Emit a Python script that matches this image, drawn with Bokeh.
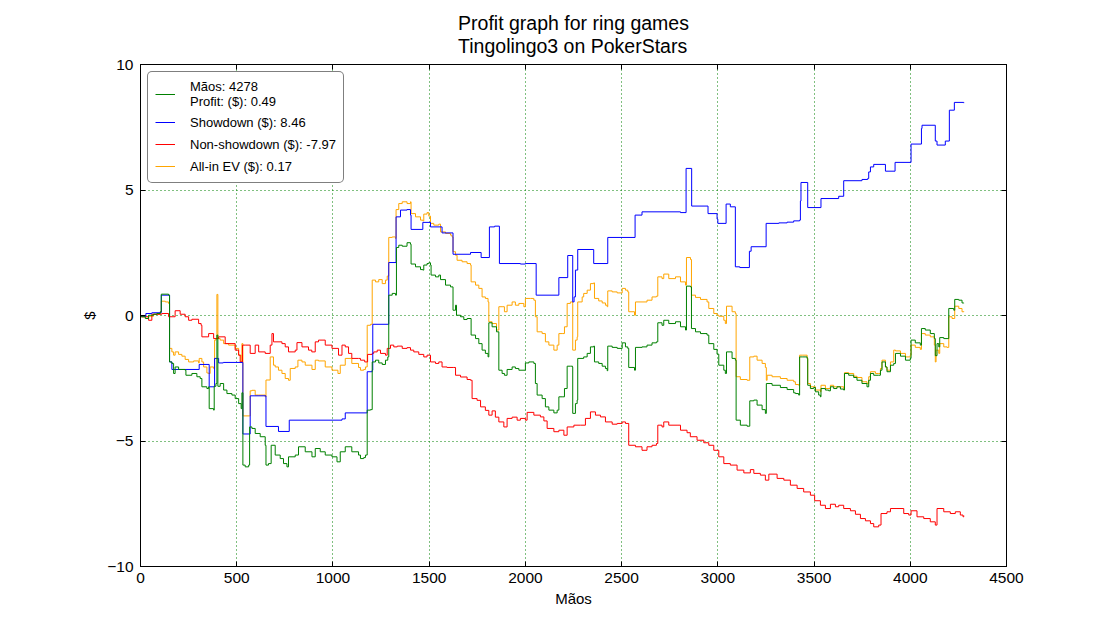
from bokeh.plotting import figure
from bokeh.models import (FixedTicker, LinearAxis, Range1d, Legend, LegendItem,
                          CustomJSTickFormatter)
from bokeh.embed import file_html
from bokeh.resources import INLINE

# ---------------- data (hand number, cumulative $) ----------------
profit_hands = [0, 4, 25, 42, 68, 85, 103, 108, 146, 151, 163, 172, 180, 198, 232, 236, 267, 293, 310, 319, 345, 354, 357, 380, 383, 392, 397, 402, 414, 432, 449, 475, 492, 510, 523, 527, 532, 544, 562, 567, 579, 596, 622, 648, 652, 665, 679, 700, 726, 743, 761, 769, 804, 821, 856, 891, 908, 934, 960, 995, 1021, 1038, 1064, 1098, 1133,
                1143, 1160, 1169, 1178, 1195, 1204, 1221, 1238, 1256, 1273, 1285, 1290, 1308, 1325, 1330, 1342, 1360, 1385, 1403, 1406, 1429, 1455, 1467, 1472, 1489, 1498, 1507, 1510, 1533, 1550, 1559, 1585, 1611, 1624, 1637, 1642, 1663, 1680, 1697, 1718, 1741, 1758, 1775, 1792, 1806, 1810, 1827, 1850, 1862, 1879, 1891, 1905, 1931, 1948, 1966, 2000, 2018, 2044, 2052, 2061, 2087, 2104, 2122, 2148, 2165, 2174, 2191, 2203, 2217, 2234, 2245, 2246, 2260, 2269, 2272,
                2303, 2321, 2338, 2355, 2359, 2381, 2399, 2416, 2425, 2428, 2451, 2477, 2503, 2520, 2532, 2537, 2567, 2572, 2606, 2632, 2658, 2681, 2688, 2710, 2719, 2745, 2780, 2806, 2832, 2837, 2858, 2863, 2884, 2910, 2944, 2953, 2979, 2996, 3005, 3031, 3039, 3045, 3074, 3091, 3095, 3117, 3152, 3166, 3187, 3204, 3230, 3247, 3252, 3282, 3325, 3360, 3394,
                3403, 3420, 3425, 3438, 3464, 3467, 3481, 3498, 3507, 3524, 3533, 3536, 3559, 3576, 3585, 3602, 3619, 3637, 3654, 3658, 3680, 3706, 3723, 3749, 3775, 3784, 3793, 3810, 3836, 3845, 3853, 3871, 3879, 3897, 3914, 3923, 3949, 3975, 4000, 4004, 4026, 4052, 4058, 4078, 4104, 4125, 4130, 4139, 4148, 4153, 4174, 4191, 4200, 4226, 4231, 4252, 4269, 4278]
profit_vals = [0.0, -0.05, -0.12, 0.01, 0.05, 0.08, 0.15, 0.85, 0.81, -1.85, -1.91, -2.31, -2.05, -2.15, -2.18, -2.38, -2.31, -2.44, -2.51, -2.84, -2.91, -2.84, -3.71, -3.77, -2.82, -2.71, -0.78, -2.82, -2.71, -2.97, -3.11, -3.17, -3.31, -3.51, -3.71, -3.08, -5.96, -6.03, -5.96, -4.44, -4.50, -4.70, -4.83, -5.17, -5.96, -5.90, -5.17, -5.56, -5.70, -5.90, -6.03, -5.63, -5.56, -5.23, -5.43, -5.63, -5.30, -5.43, -5.56, -5.63, -5.83, -5.43, -5.23, -5.43, -5.56,
               -5.70, -5.66, -5.56, -3.77, -3.75, -1.85, -1.78, -1.89, -1.95, -1.78, -1.65, 0.81, 0.88, 0.81, 2.71, 2.80, 2.76, 2.90, 2.84, 2.05, 1.94, 1.83, 1.81, 2.01, 2.07, 2.10, 2.01, 1.61, 1.54, 1.61, 1.43, 1.21, 1.14, 0.21, 0.41, 0.01, -0.05, -0.16, -0.12, -0.78, -0.92, -1.12, -1.38, -1.51, -1.65, -0.29, -0.45, -0.65, -2.18, -2.31, -2.38, -2.15, -2.05, -2.11, -2.18, -1.89, -1.85, -1.91, -2.71, -3.17, -3.31, -3.64, -3.77, -3.88, -3.77, -3.24, -3.24, -2.91, -2.02, -2.02, -2.05, -3.90, -3.51, -3.37, -1.71,
               -1.65, -1.51, -1.25, -1.22, -1.85, -1.91, -2.02, -2.11, -2.20, -1.22, -1.27, -1.31, -1.09, -1.25, -1.31, -2.07, -2.18, -1.27, -1.25, -1.18, -1.09, -1.05, -0.29, -0.39, -0.19, -0.32, -0.25, -0.45, -0.58, 1.17, 1.14, -0.52, -0.65, -0.72, -0.78, -1.12, -1.35, -1.54, -1.98, -2.18, -2.31, -1.45, -1.71, -1.78, -4.17, -4.37, -4.41, -3.40, -3.37, -3.57, -3.75, -3.90, -2.71, -2.78, -2.87, -2.95, -3.08,
               -3.11, -3.17, -1.65, -1.65, -1.71, -2.78, -2.91, -2.87, -3.04, -3.17, -3.24, -2.91, -2.97, -3.00, -2.84, -2.91, -2.84, -2.93, -2.97, -2.31, -2.38, -2.47, -2.58, -2.71, -2.84, -2.58, -2.31, -2.38, -2.38, -2.18, -1.85, -2.05, -2.24, -1.98, -1.91, -1.51, -1.62, -1.78, -1.71, -0.98, -1.09, -1.18, -0.52, -0.58, -0.72, -0.92, -1.60, -1.12, -1.25, -0.88, -0.92, -0.92, 0.28, 0.21, 0.64, 0.61, 0.50, 0.49]

showdown_hands = [0, 4, 28, 59, 108, 151, 163, 305, 357, 385, 406, 430, 532, 570, 652, 717, 773, 1047, 1064, 1178, 1204, 1207, 1290, 1328, 1351, 1385, 1403, 1406, 1467, 1507, 1567, 1624, 1715, 1770, 1813, 1840, 1865, 1974, 2000, 2056, 2174, 2220, 2246, 2253, 2260, 2272, 2355, 2428, 2570, 2606, 2806, 2835, 2864, 2949, 2996, 3000, 3043, 3065, 3091, 3114, 3164, 3173, 3251, 3317, 3360, 3394, 3425, 3429, 3432, 3467, 3536, 3628, 3654, 3749, 3779, 3784, 3793, 3810, 3871, 3921, 4004, 4058, 4061, 4130, 4139, 4182, 4203, 4229, 4278]
showdown_vals = [0.0, -0.03, 0.08, 0.11, 0.81, -1.85, -2.15, -1.95, -2.84, -1.71, -1.89, -1.87, -4.72, -3.20, -4.42, -4.62, -4.17, -4.12, -3.88, -2.24, -2.18, -0.35, 2.11, 3.93, 4.20, 4.22, 4.00, 3.43, 3.71, 3.53, 3.29, 2.44, 2.51, 2.31, 3.53, 3.56, 2.07, 2.05, 2.07, 0.81, 1.51, 2.39, 0.54, 0.74, 1.81, 2.63, 2.07, 3.11, 4.00, 4.13, 4.10, 5.86, 4.36, 4.06, 3.84, 3.67, 4.44, 4.33, 1.94, 1.91, 2.56, 2.74, 3.67, 3.69, 3.72, 3.77, 3.80, 4.56, 5.30, 4.30, 4.66, 4.75, 5.37, 5.42, 5.46, 5.72, 5.92, 6.02, 5.75, 6.10, 6.83, 7.45, 7.58, 6.95, 6.79, 6.95, 8.18, 8.49, 8.46]

nonsd_hands = [0, 4, 42, 59, 111, 146, 180, 206, 232, 250, 267, 302, 315, 319, 354, 380, 406, 440, 492, 510, 518, 530, 544, 570, 596, 614, 648, 674, 683, 691, 735, 752, 769, 804, 813, 839, 873, 890, 908, 925, 960, 995, 1029, 1047, 1064, 1081, 1098, 1133,
               1143, 1165, 1180, 1204, 1212, 1230, 1247, 1273, 1282, 1299, 1316, 1334, 1360, 1385, 1403, 1420, 1446, 1472, 1489, 1507, 1533, 1550, 1567, 1593, 1628, 1637, 1663, 1697, 1715, 1723, 1749, 1767, 1792, 1810, 1827, 1844, 1862, 1888, 1905, 1931, 1957, 1974, 2000, 2009, 2044, 2078, 2096, 2113, 2148, 2174, 2200, 2217, 2252,
               2286, 2312, 2338, 2364, 2390, 2416, 2451, 2477, 2503, 2520, 2537, 2572, 2606, 2632, 2658, 2681, 2688, 2710, 2719, 2745, 2788, 2806, 2840, 2857, 2892, 2927, 2953, 2979, 3005, 3031, 3065, 3100, 3135, 3169, 3187, 3221, 3247, 3265, 3308, 3343,
               3377, 3412, 3446, 3481, 3503, 3533, 3559, 3585, 3611, 3628, 3654, 3689, 3715, 3741, 3767, 3793, 3810, 3836, 3848, 3879, 3897, 3931, 3966, 3992, 4004, 4035, 4070, 4104, 4130, 4139, 4174, 4208, 4234, 4260, 4274, 4278]
nonsd_vals = [0.0, -0.05, -0.19, 0.05, 0.08, -0.05, 0.19, 0.05, -0.05, -0.19, -0.15, -0.32, -0.39, -0.85, -0.72, -0.92, -0.85, -1.12, -1.38, -1.58, -1.85, -1.18, -1.18, -1.51, -1.18, -1.45, -1.51, -1.18, -0.72, -1.05, -1.12, -1.25, -1.45, -1.38, -1.08, -1.25, -1.38, -1.45, -1.05, -0.98, -1.18, -1.31, -1.58, -1.18, -1.25, -1.51, -1.71, -1.71,
              -1.78, -1.85, -1.55, -1.51, -1.45, -1.38, -1.51, -1.58, -1.31, -1.18, -1.25, -1.22, -1.31, -1.28, -1.38, -1.45, -1.55, -1.65, -1.58, -1.85, -1.91, -1.85, -2.05, -2.07, -2.07, -2.38, -2.45, -2.55, -2.58, -3.31, -3.38, -3.64, -3.78, -3.97, -3.80, -4.05, -4.24, -4.44, -4.10, -4.05, -4.17, -4.10, -4.17, -3.86, -3.97, -4.04, -4.20, -4.50, -4.63, -4.57, -4.77, -4.44, -4.37,
              -4.37, -4.10, -3.84, -3.97, -4.04, -4.24, -4.33, -4.30, -4.24, -4.30, -5.17, -5.23, -5.37, -5.23, -5.17, -5.10, -4.37, -4.44, -4.24, -4.37, -4.37, -4.57, -4.67, -4.83, -4.97, -5.07, -5.17, -5.37, -5.63, -5.90, -5.96, -6.16, -6.27, -6.14, -6.29, -6.36, -6.56, -6.32, -6.49, -6.56,
              -6.76, -6.89, -7.03, -7.16, -7.38, -7.56, -7.69, -7.52, -7.62, -7.56, -7.69, -7.78, -7.92, -8.09, -8.18, -8.29, -8.42, -8.35, -7.89, -7.82, -7.69, -7.69, -7.89, -7.95, -7.78, -8.02, -8.09, -8.22, -8.35, -7.69, -7.82, -7.89, -7.82, -7.95, -8.02, -7.97]

allin_hands = [0, 4, 42, 68, 103, 108, 129, 146, 151, 163, 172, 180, 198, 215, 232, 250, 276, 302, 305, 319, 328, 345, 354, 362, 380, 385, 392, 397, 402, 414, 432, 458, 492, 510, 523, 527, 532, 566, 570, 579, 596, 614, 648, 652, 674, 683, 691, 700, 717, 735, 752, 769, 778, 804, 818, 839, 856, 891, 908, 925, 960, 995, 1026, 1038, 1064, 1098, 1133,
               1143, 1160, 1169, 1178, 1195, 1204, 1221, 1238, 1256, 1273, 1282, 1290, 1308, 1325, 1328, 1342, 1360, 1385, 1403, 1406, 1429, 1455, 1467, 1472, 1489, 1498, 1507, 1524, 1550, 1559, 1585, 1611, 1619, 1624, 1637, 1645, 1671, 1697, 1715, 1718, 1741, 1758, 1775, 1792, 1806, 1810, 1827, 1850, 1862, 1879, 1891, 1905, 1931, 1948, 1966, 1992, 2000, 2026, 2044, 2052, 2061, 2087, 2104, 2122, 2148, 2165, 2174, 2191, 2203, 2217, 2234, 2245, 2246, 2260, 2269, 2272, 2295,
               2303, 2321, 2338, 2355, 2359, 2381, 2399, 2416, 2425, 2428, 2451, 2477, 2503, 2520, 2532, 2537, 2567, 2572, 2606, 2632, 2658, 2681, 2688, 2710, 2719, 2745, 2780, 2806, 2832, 2837, 2858, 2863, 2884, 2910, 2944, 2953, 2979, 2996, 3005, 3031, 3039, 3045, 3074, 3091, 3095, 3117, 3152, 3166, 3187, 3204, 3230, 3247, 3252, 3256, 3282, 3325, 3360, 3394,
               3403, 3420, 3425, 3438, 3464, 3467, 3481, 3507, 3533, 3536, 3559, 3585, 3602, 3637, 3654, 3658, 3680, 3706, 3723, 3749, 3775, 3784, 3793, 3819, 3836, 3845, 3853, 3871, 3879, 3897, 3914, 3923, 3949, 3975, 4000, 4004, 4026, 4052, 4058, 4078, 4104, 4125, 4130, 4134, 4148, 4153, 4174, 4191, 4200, 4217, 4231, 4252, 4269, 4278]
allin_vals = [0.0, -0.05, -0.03, 0.05, 0.15, 0.57, 0.54, 0.48, -1.31, -1.45, -1.58, -1.45, -1.55, -1.62, -1.75, -1.85, -1.81, -1.89, -1.71, -1.85, -2.05, -2.29, -2.31, -2.05, -2.11, -0.98, -0.92, 0.84, -0.92, -0.98, -1.12, -1.18, -1.31, -1.58, -1.85, -1.12, -4.00, -4.00, -3.00, -2.98, -3.17, -3.17, -3.24, -2.57, -1.65, -1.65, -1.98, -2.05, -2.18, -2.31, -2.51, -2.58, -2.11, -2.05, -1.78, -1.85, -1.98, -2.15, -1.78, -1.81, -2.05, -2.18, -2.31, -1.98, -1.71, -1.91, -2.07,
              -2.18, -2.15, -2.05, -0.39, -0.35, 1.41, 1.34, 1.43, 1.27, 1.41, 1.57, 3.11, 3.13, 3.07, 4.22, 4.46, 4.53, 4.46, 4.53, 4.06, 3.93, 3.80, 3.77, 4.04, 4.10, 3.96, 3.67, 3.60, 3.64, 3.33, 3.27, 3.20, 3.13, 2.54, 2.40, 2.20, 2.14, 2.07, 2.01, 1.34, 1.21, 1.08, 0.74, 0.68, 0.54, -0.25, -0.32, -0.58, 0.35, 0.35, 0.15, 0.41, 0.54, 0.41, 0.48, 0.35, 0.68, 0.68, 0.61, -0.05, -0.65, -0.72, -1.05, -1.18, -1.38, -1.18, -0.72, -0.72, -0.45, 0.48, 0.54, 0.48, -1.38, -0.98, -0.85, 0.54, 0.74,
              0.88, 1.01, 1.27, 1.30, 0.68, 0.58, 0.50, 0.41, 0.35, 0.98, 0.94, 0.90, 1.08, 1.01, 0.94, 0.15, 0.01, 0.54, 0.54, 0.61, 0.74, 0.77, 1.54, 1.47, 1.65, 1.47, 1.54, 1.34, 1.21, 2.31, 2.23, 0.81, 0.72, 0.64, 0.54, 0.28, 0.08, 0.01, -0.03, -0.19, -0.32, 0.37, 0.15, 0.08, -2.44, -2.55, -2.58, -1.65, -1.62, -1.78, -1.91, -2.07, -2.58, -2.38, -2.44, -2.51, -2.58, -2.64,
              -2.75, -2.78, -1.58, -1.58, -1.71, -2.71, -2.84, -2.97, -3.04, -2.78, -2.91, -2.78, -2.84, -2.84, -2.91, -2.28, -2.31, -2.42, -2.47, -2.64, -2.71, -2.44, -2.24, -2.31, -2.31, -2.11, -1.78, -2.05, -2.18, -1.85, -1.38, -1.41, -1.51, -1.65, -1.58, -1.18, -1.27, -1.35, -0.72, -0.78, -0.85, -1.18, -1.85, -1.38, -1.51, -1.12, -1.25, -1.27, -0.05, -0.12, 0.37, 0.28, 0.15, 0.17]

x_ticks = [0, 500, 1000, 1500, 2000, 2500, 3000, 3500, 4000, 4500]
y_ticks = [-10, -5, 0, 5, 10]
title_text = "Profit graph for ring games\nTingolingo3 on PokerStars"
labels = ["M\u00e3os: 4278\nProfit: ($): 0.49", "Showdown ($): 8.46",
          "Non-showdown ($): -7.97", "All-in EV ($): 0.17"]
colors = {"profit": "#008000", "showdown": "#0000ff", "nonsd": "#ff0000", "allin": "#ffa500"}

FONT = "Liberation Sans"

p = figure(width=1110, height=621, output_backend="svg", toolbar_location=None,
           x_range=Range1d(0, 4500), y_range=Range1d(-10, 10),
           min_border_left=140, min_border_right=104, min_border_top=64, min_border_bottom=55,
           x_axis_label="M\u00e3os", y_axis_label="$")
p.background_fill_color = "white"
p.border_fill_color = "white"
p.outline_line_color = "black"
p.outline_line_width = 1

p.title.text = title_text
p.title.align = "center"
p.title.vertical_align = "top"
p.title.text_font = FONT
p.title.text_font_size = "19.5px"
p.title.text_font_style = "normal"
p.title.text_color = "black"
p.title.text_line_height = 1.03
p.title.standoff = 11

xt = FixedTicker(ticks=x_ticks, minor_ticks=[])
yt = FixedTicker(ticks=y_ticks, minor_ticks=[])

for ax, tk in ((p.xaxis[0], xt), (p.yaxis[0], yt)):
    ax.ticker = tk
    ax.major_tick_in = 5
    ax.major_tick_out = 0
    ax.minor_tick_in = 0
    ax.minor_tick_out = 0
    ax.axis_line_color = "black"
    ax.major_tick_line_color = "black"
    ax.major_label_text_font = FONT
    ax.major_label_text_font_size = "15.5px"
    ax.major_label_text_color = "black"
    ax.axis_label_text_font = FONT
    ax.axis_label_text_font_size = "15px"
    ax.axis_label_text_font_style = "normal"
    ax.axis_label_text_color = "black"

p.xaxis[0].major_label_standoff = 6
p.xaxis[0].axis_label_standoff = 4
p.yaxis[0].major_label_standoff = 7
p.yaxis[0].axis_label_standoff = 6
p.yaxis[0].major_label_overrides = {-10: "\u221210", -5: "\u22125", 0: "0", 5: "5", 10: "10"}

blank = CustomJSTickFormatter(code="return ''")
top = LinearAxis(ticker=xt, formatter=blank, major_tick_in=5, major_tick_out=0,
                 minor_tick_in=0, minor_tick_out=0, major_label_standoff=0,
                 major_label_text_font_size="1px", axis_line_color="black")
right = LinearAxis(ticker=yt, formatter=blank, major_tick_in=5, major_tick_out=0,
                   minor_tick_in=0, minor_tick_out=0, major_label_standoff=0,
                   major_label_text_font_size="1px", axis_line_color="black")
p.add_layout(top, "above")
p.add_layout(right, "right")

p.xgrid.ticker = xt
p.ygrid.ticker = yt
for g in (p.xgrid[0], p.ygrid[0]):
    g.grid_line_color = "#008000"
    g.grid_line_dash = "1 3"
    g.grid_line_width = 1

r_allin = p.step(allin_hands, allin_vals, mode="after", line_color=colors["allin"], line_width=1)
r_nonsd = p.step(nonsd_hands, nonsd_vals, mode="after", line_color=colors["nonsd"], line_width=1)
r_sd = p.step(showdown_hands, showdown_vals, mode="after", line_color=colors["showdown"], line_width=1)
r_profit = p.step(profit_hands, profit_vals, mode="after", line_color=colors["profit"], line_width=1)

legend = Legend(items=[
    LegendItem(label=labels[0], renderers=[r_profit]),
    LegendItem(label=labels[1], renderers=[r_sd]),
    LegendItem(label=labels[2], renderers=[r_nonsd]),
    LegendItem(label=labels[3], renderers=[r_allin]),
], location="top_left")
legend.margin = 7
legend.padding = 7
legend.spacing = 4
legend.label_height = 18
legend.glyph_height = 18
legend.glyph_width = 20
legend.label_standoff = 15
legend.label_text_font = FONT
legend.label_text_font_size = "13px"
legend.label_text_color = "black"
legend.label_text_line_height = 1.3
legend.border_line_color = "black"
legend.border_line_width = 1
legend.background_fill_color = "white"
legend.background_fill_alpha = 1
try:
    legend.border_radius = 5
except Exception:
    pass
p.add_layout(legend, "center")

open("out.html", "w").write(file_html(p, INLINE))
